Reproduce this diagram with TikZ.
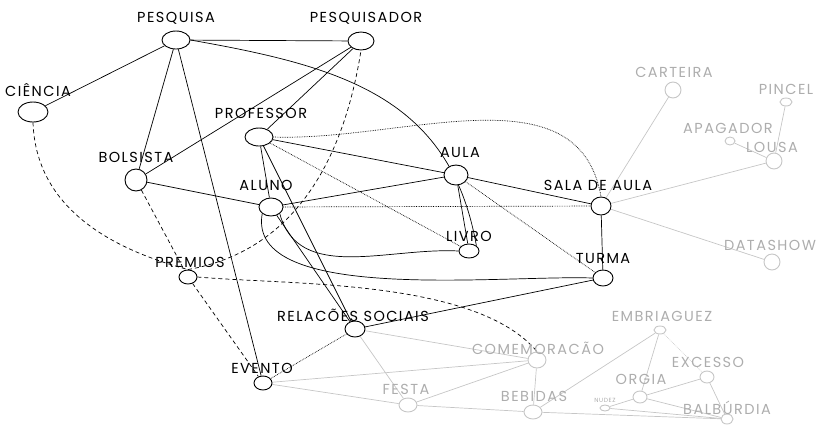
\documentclass[tikz,border=0pt]{standalone}
\usepackage{fontspec}
\setmainfont{Poppins}[LetterSpace=10]
\usetikzlibrary{shapes.geometric,backgrounds}
\definecolor{softc}{HTML}{C6C6C6}
\definecolor{softt}{HTML}{ADADAD}
\tikzset{
  vtx/.style={draw, ellipse, fill=white, inner sep=0pt, line width=0.9pt, minimum width=22pt, minimum height=18pt},
  gvtx/.style={vtx, draw=softc},
  lbl/.style={font=\fontsize{14.5}{14.5}\selectfont, inner sep=0pt},
  glbl/.style={lbl, text=softt},
  lnk/.style={line width=0.7pt},
  dlnk/.style={lnk, densely dotted},
  dsh/.style={lnk, dash pattern=on 4pt off 3pt},
  glnk/.style={line width=0.7pt, softc},
}

\begin{document}
\begin{tikzpicture}[x=1pt, y=1pt]
  \useasboundingbox (0,0) rectangle (825,-424);
  % main concepts
  \node[vtx, minimum width=28pt] (pesquisa) at (176,-40) {};
  \node[vtx, minimum width=26pt] (pesquisador) at (361,-41) {};
  \node[vtx, minimum width=30pt, minimum height=20pt] (ciencia) at (33,-112) {};
  \node[vtx, minimum width=28pt] (professor) at (259,-137) {};
  \node[vtx, minimum width=22pt, minimum height=22pt] (bolsista) at (136,-180) {};
  \node[vtx, minimum width=24pt, minimum height=20pt] (aula) at (456,-175) {};
  \node[vtx, minimum width=24pt] (aluno) at (271,-207) {};
  \node[vtx, minimum width=20pt] (sala) at (601,-206) {};
  \node[vtx, minimum width=20pt, minimum height=14pt] (livro) at (469,-251) {};
  \node[vtx, minimum width=20pt, minimum height=16pt] (turma) at (603,-278) {};
  \node[vtx, minimum width=18pt, minimum height=14pt] (premios) at (188,-277) {};
  \node[vtx, minimum width=20pt, minimum height=16pt] (relacoes) at (355,-329) {};
  \node[vtx, minimum width=18pt, minimum height=14pt] (evento) at (263,-383) {};
  % faded concepts
  \node[gvtx, minimum width=18pt, minimum height=16pt] (comemoracao) at (537,-360) {};
  \node[gvtx, minimum width=18pt, minimum height=14pt] (festa) at (408,-405) {};
  \node[gvtx, minimum width=18pt, minimum height=14pt] (bebidas) at (533,-412) {};
  \node[gvtx, minimum width=12pt, minimum height=8pt] (embriaguez) at (660,-330) {};
  \node[gvtx, minimum width=14pt, minimum height=12pt] (excesso) at (707,-377) {};
  \node[gvtx, minimum width=14pt, minimum height=12pt] (orgia) at (640,-397) {};
  \node[gvtx, minimum width=10pt, minimum height=6pt] (nudez) at (605,-408) {};
  \node[gvtx, minimum width=12pt, minimum height=10pt] (balburdia) at (727,-419) {};
  \node[gvtx, minimum width=16pt, minimum height=16pt] (carteira) at (673,-90) {};
  \node[gvtx, minimum width=12pt, minimum height=8pt] (pincel) at (786,-102) {};
  \node[gvtx, minimum width=10pt, minimum height=8pt] (apagador) at (730,-141) {};
  \node[gvtx, minimum width=16pt, minimum height=16pt] (lousa) at (774,-161) {};
  \node[gvtx, minimum width=16pt, minimum height=16pt] (datashow) at (772,-262) {};
  % labels
  \node[lbl] (pesquisa-t) at (176,-18) {PESQUISA};
  \node[lbl] (pesquisador-t) at (366,-18) {PESQUISADOR};
  \node[lbl] (ciencia-t) at (38,-90) {CIÊNCIA};
  \node[lbl] (professor-t) at (261,-113) {PROFESSOR};
  \node[lbl] (bolsista-t) at (136,-157) {BOLSISTA};
  \node[lbl] (aula-t) at (460,-152) {AULA};
  \node[lbl] (aluno-t) at (266,-185) {ALUNO};
  \node[lbl] (sala-t) at (598,-185) {SALA DE AULA};
  \node[lbl] (livro-t) at (469,-236) {LIVRO};
  \node[lbl] (turma-t) at (603,-258) {TURMA};
  \node[lbl] (premios-t) at (190,-262) {PREMIOS};
  \node[lbl] (relacoes-t) at (353,-315) {RELACÕES SOCIAIS};
  \node[lbl] (evento-t) at (262,-368) {EVENTO};
  \node[glbl] (comemoracao-t) at (538,-348) {COMEMORACÃO};
  \node[glbl] (festa-t) at (406,-389) {FESTA};
  \node[glbl] (bebidas-t) at (534,-396) {BEBIDAS};
  \node[glbl] (embriaguez-t) at (662,-316) {EMBRIAGUEZ};
  \node[glbl] (excesso-t) at (708,-362) {EXCESSO};
  \node[glbl] (orgia-t) at (641,-379) {ORGIA};
  \node[glbl, font=\fontsize{6}{6}\selectfont] (nudez-t) at (605,-400) {NUDEZ};
  \node[glbl] (balburdia-t) at (727,-408) {BALBÚRDIA};
  \node[glbl] (carteira-t) at (674,-72) {CARTEIRA};
  \node[glbl] (pincel-t) at (786,-89) {PINCEL};
  \node[glbl] (apagador-t) at (728,-128) {APAGADOR};
  \node[glbl] (lousa-t) at (772,-147) {LOUSA};
  \node[glbl] (datashow-t) at (770,-245) {DATASHOW};
  \begin{scope}[on background layer]
    % faded links
    \draw[glnk] (sala) -- (carteira); \draw[glnk] (sala) -- (lousa);
    \draw[glnk] (sala) -- (datashow); \draw[glnk] (lousa) -- (apagador);
    \draw[glnk] (lousa) -- (pincel);
    \draw[glnk] (relacoes) -- (comemoracao); \draw[glnk] (relacoes) -- (festa);
    \draw[glnk] (evento) -- (comemoracao); \draw[glnk] (evento) -- (festa);
    \draw[glnk] (festa) -- (comemoracao); \draw[glnk] (festa) -- (bebidas);
    \draw[glnk] (comemoracao) -- (bebidas); \draw[glnk] (bebidas) -- (embriaguez);
    \draw[glnk] (bebidas) -- (balburdia); \draw[glnk] (embriaguez) -- (orgia);
    \draw[glnk, densely dotted] (embriaguez) -- (excesso);
    \draw[glnk] (excesso) -- (orgia); \draw[glnk] (excesso) -- (balburdia);
    \draw[glnk] (orgia) -- (nudez); \draw[glnk] (orgia) -- (balburdia);
    \draw[glnk] (nudez) -- (balburdia);
    % main links
    \draw[lnk] (ciencia) -- (pesquisa); \draw[lnk] (pesquisa) -- (pesquisador);
    \draw[lnk] (pesquisa) -- (bolsista); \draw[lnk] (pesquisa) -- (evento);
    \draw[lnk] (pesquisador) -- (bolsista); \draw[lnk] (pesquisador) -- (professor);
    \draw[lnk] (bolsista) -- (aluno);
    \draw[lnk] (professor) -- (aluno); \draw[lnk] (professor) -- (aula);
    \draw[dlnk] (professor) -- (livro); \draw[lnk] (professor) -- (relacoes);
    \draw[lnk] (aluno) -- (aula); \draw[dlnk] (aluno) -- (sala);
    \draw[lnk] (aluno) -- (relacoes);
    \draw[lnk] (aula) -- (sala); \draw[lnk] (aula) -- (livro);
    \draw[dlnk] (aula) -- (turma); \draw[lnk] (sala) -- (turma);
    \draw[lnk] (relacoes) -- (turma); \draw[dlnk] (relacoes) -- (evento);
    \draw[lnk] (pesquisa.east) to[out=-10, in=100, looseness=1.1] (livro.north east);
    \draw[dlnk] (professor.east) to[out=-2, in=100] (sala.north);
    \draw[lnk] (aluno.south east) to[out=-75, in=177] (livro.west);
    \draw[lnk] (aluno.south west) to[out=-100, in=178, looseness=0.7] (turma.west);
    % dashed links
    \draw[dsh] (ciencia.south) to[out=-88, in=165] (premios.north);
    \draw[dsh] (premios.north) to[out=10, in=-99] (pesquisador.south);
    \draw[dsh] (bolsista) -- (premios); \draw[dsh] (premios) -- (evento);
    \draw[dsh] (premios.east) to[out=-5, in=130, looseness=0.7] (comemoracao.north);
  \end{scope}
\end{tikzpicture}
\end{document}
